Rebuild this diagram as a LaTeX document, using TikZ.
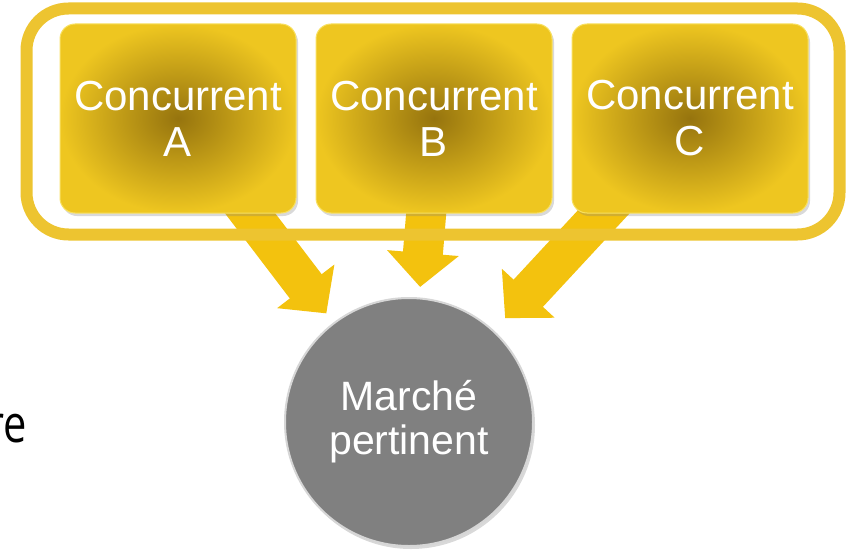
\documentclass[tikz,border=0pt]{standalone}
\usepackage{fontspec}
\setmainfont{Liberation Sans}
\newfontfamily\sidefont{Open Sans}
\usetikzlibrary{positioning}
\usetikzlibrary{arrows.meta}
\usetikzlibrary{shadows}
\usetikzlibrary{fit}
\definecolor{goldedge}{RGB}{238,198,32}
\definecolor{goldcore}{RGB}{150,116,14}
\definecolor{goldrim}{RGB}{248,224,96}
\definecolor{goldarrow}{RGB}{243,194,14}
\definecolor{goldframe}{RGB}{237,196,48}
\definecolor{marketgray}{RGB}{128,128,128}
\definecolor{marketrim}{RGB}{214,214,214}
\pgfdeclarelayer{background}
\pgfsetlayers{background,main}

\begin{document}
\begin{tikzpicture}[x=1pt, y=-1pt, node distance=256pt,
competitor/.style = {rectangle, rounded corners=15pt, minimum width=236pt, minimum height=189pt, inner color=goldcore, outer color=goldedge, draw=goldrim, line width=1pt, text=white, align=center, font=\fontsize{42}{46}\selectfont, drop shadow={opacity=0.3, shadow xshift=2pt, shadow yshift=-3pt}},
market/.style = {circle, minimum size=248pt, fill=marketgray, draw=marketrim, line width=2pt, text=white, align=center, font=\fontsize{41}{44}\selectfont, drop shadow={opacity=0.3, shadow xshift=2pt, shadow yshift=-3pt}},
flow/.style = {draw=goldarrow, line width=40pt, shorten <=-30pt, -{Triangle[width=0pt 1.75, length=0pt 0.85]}},
competitorgroup/.style = {rectangle, rounded corners=42pt, draw=goldframe, line width=12pt}
]
\useasboundingbox (0,0) rectangle (848,551);

\node (ca)[competitor] at (178,118.5) {Concurrent\\A};
\node (cb)[competitor, right of=ca] {Concurrent\\B};
\node (cc)[competitor, right of=cb] {Concurrent\\C};

\node (mp)[market] at (409,422) {Marché\\pertinent};

\node (sidetext)[anchor=base east, inner sep=0pt, font=\sidefont\fontsize{52}{52}\selectfont] at (27,442) {\scalebox{0.8}[1]{re}};

%arrows under the boxes
\begin{pgfonlayer}{background}
\draw[flow, shorten >=11.5pt] (ca) -- (mp);
\draw[flow, shorten >=10.5pt] (cb) -- (mp);
\draw[flow, shorten >=16.5pt] (cc) -- (mp);
\end{pgfonlayer}

\node (frame)[competitorgroup, fit=(ca)(cc), inner xsep=32pt, inner ysep=18pt, xshift=-1pt, yshift=-3pt] {};

\end{tikzpicture}
\end{document}
